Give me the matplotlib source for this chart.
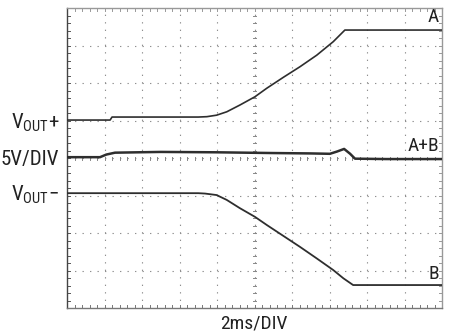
import matplotlib.pyplot as plt

# scope trace values, in divisions (x: 0..10, y: 0..8)
a_x = [0, 1.15, 1.2, 3.5, 3.73, 3.99, 4.26, 4.61, 5.01, 5.33, 5.77, 6.21, 6.66, 7.10, 7.41, 10]
a_y = [5.02, 5.02, 5.10, 5.10, 5.11, 5.15, 5.24, 5.42, 5.64, 5.87, 6.16, 6.44, 6.75, 7.11, 7.42, 7.42]

ab_x = [0, 0.88, 1.05, 1.28, 2.5, 4.0, 5.5, 6.5, 7.01, 7.2, 7.39, 7.55, 7.68, 8.5, 10]
ab_y = [4.03, 4.03, 4.10, 4.15, 4.17, 4.16, 4.14, 4.13, 4.12, 4.18, 4.25, 4.12, 3.99, 3.98, 3.98]

b_x = [0, 3.5, 3.68, 3.99, 4.26, 4.61, 5.01, 5.33, 5.77, 6.21, 6.66, 7.10, 7.37, 7.63, 10]
b_y = [3.07, 3.07, 3.06, 3.02, 2.89, 2.67, 2.44, 2.22, 1.93, 1.64, 1.33, 1.02, 0.80, 0.62, 0.62]

plt.rcParams['font.family'] = ['Roboto Condensed', 'DejaVu Sans']
plt.rcParams['mathtext.fontset'] = 'custom'
plt.rcParams['mathtext.rm'] = 'Roboto Condensed'

fig = plt.figure(figsize=(4.49, 3.36), dpi=100)
ax = fig.add_axes([67 / 449, 1 - 308.3 / 336, 375 / 449, 300 / 336])
ax.set_xlim(0, 10)
ax.set_ylim(0, 8)
ax.set_xticks([])
ax.set_yticks([])
for s in ax.spines.values():
    s.set_color('#999999')
    s.set_linewidth(1.0)
ax.spines['left'].set_color('#444444')
ax.spines['bottom'].set_color('#777777')

# dotted graticule, a dot every 1/5 division
grid_col = '#8f8f8f'
for i in range(1, 10):
    ax.axvline(i, color=grid_col, lw=0.8, ls=(0, (1.2, 5.55)), zorder=1)
for j in range(1, 8):
    ax.axhline(j, color=grid_col, lw=0.8, ls=(0, (1.2, 5.55)), zorder=1)

# minor ticks along edges and centre lines
for k in range(1, 50):
    t = k / 5
    ax.plot([t, t], [0, 0.08], color='#777777', lw=0.7)
    ax.plot([t, t], [8, 7.92], color='#999999', lw=0.7)
    ax.plot([t, t], [3.96, 4.04], color='#888888', lw=0.7)
for k in range(1, 40):
    t = k / 5
    ax.plot([0, 0.08], [t, t], color='#555555', lw=0.7)
    ax.plot([10, 9.92], [t, t], color='#999999', lw=0.7)
    ax.plot([4.96, 5.04], [t, t], color='#888888', lw=0.7)

trace = '#2e2e2e'
ax.plot(a_x, a_y, color=trace, lw=1.2, zorder=3)
ax.plot(ab_x, ab_y, color=trace, lw=1.8, zorder=3)
ax.plot(b_x, b_y, color=trace, lw=1.3, zorder=3)

ax.text(9.92, 7.52, 'A', ha='right', va='bottom', fontsize=14, color='#222222')
ax.text(9.92, 4.08, 'A+B', ha='right', va='bottom', fontsize=14, color='#222222')
ax.text(9.92, 0.68, 'B', ha='right', va='bottom', fontsize=14, color='#222222')

fig.text(59 / 449, 1 - 123 / 336, r'$\mathregular{V_{OUT}}$+', ha='right', va='center', fontsize=15, color='#222222')
fig.text(59 / 449, 1 - 159 / 336, '5V/DIV', ha='right', va='center', fontsize=15, color='#222222')
fig.text(59 / 449, 1 - 195 / 336, r'$\mathregular{V_{OUT}}$−', ha='right', va='center', fontsize=15, color='#222222')
fig.text(254 / 449, 1 - 323 / 336, '2ms/DIV', ha='center', va='center', fontsize=14, color='#222222')

fig.savefig('out.png', dpi=100)
